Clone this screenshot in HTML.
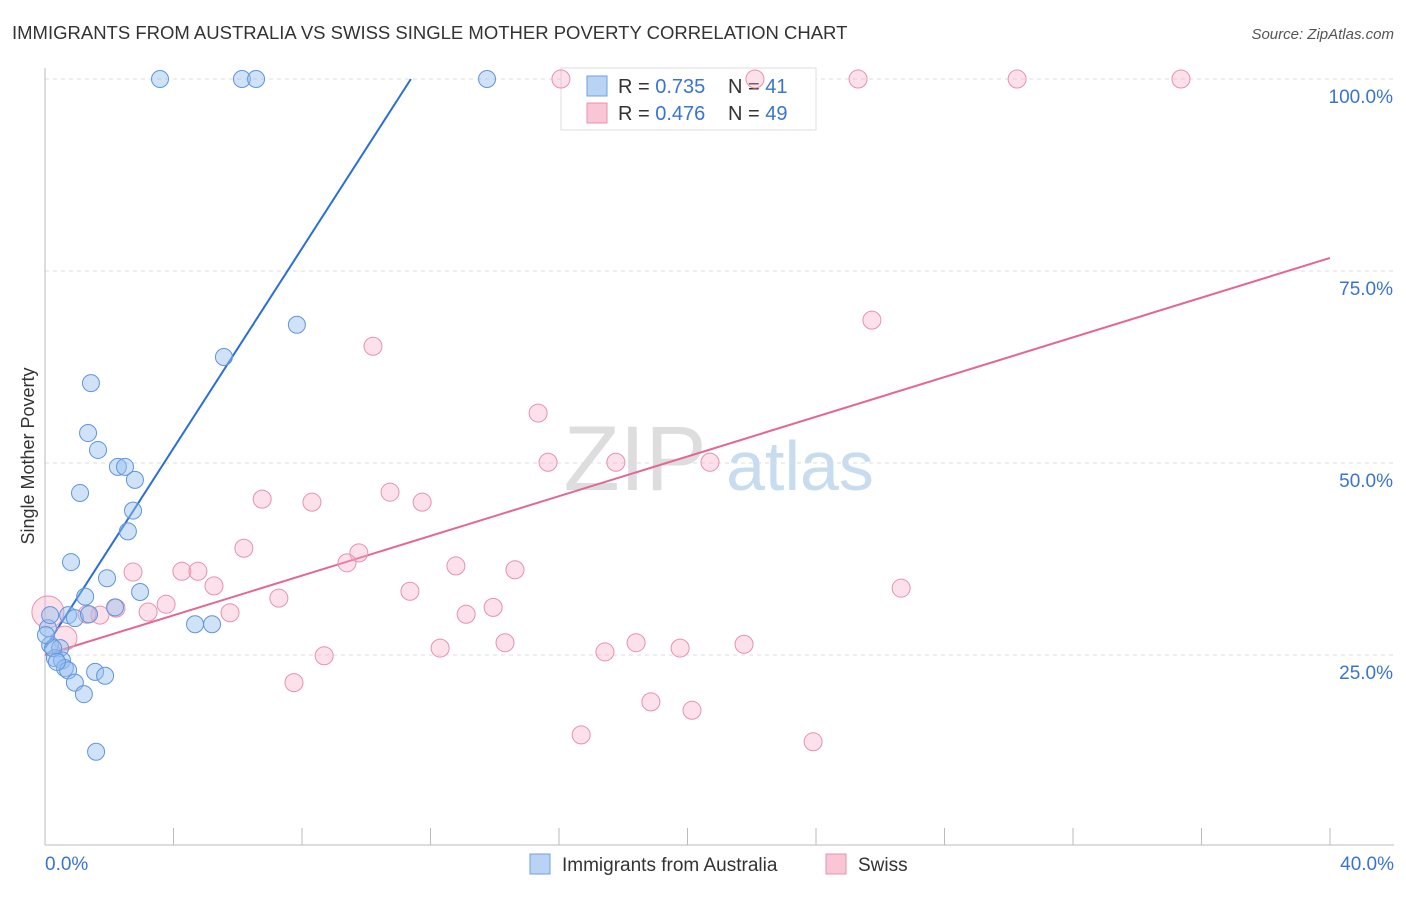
<!DOCTYPE html>
<html><head><meta charset="utf-8"><style>
body{margin:0;background:#fff;font-family:"Liberation Sans",sans-serif;}
svg text{font-family:"Liberation Sans",sans-serif;}
</style></head><body>
<svg id="chart" width="1406" height="892" viewBox="0 0 1406 892" xmlns="http://www.w3.org/2000/svg">
<text x="12" y="39" font-size="18.5" fill="#333">IMMIGRANTS FROM AUSTRALIA VS SWISS SINGLE MOTHER POVERTY CORRELATION CHART</text>
<text x="1394" y="39" font-size="15" fill="#555" text-anchor="end" font-style="italic">Source: ZipAtlas.com</text>
<text x="34" y="456" font-size="18" fill="#333" text-anchor="middle" transform="rotate(-90 34 456)">Single Mother Poverty</text>
<g><text x="635" y="490" font-size="92" fill="#ddd" text-anchor="middle" font-family="Liberation Serif,serif">ZIP</text><text x="800" y="490" font-size="70" fill="#c8dcf0" text-anchor="middle">atlas</text></g>
<g id="grid"></g><g id="axes"></g>
<g>
<rect x="561" y="68" width="255" height="62" fill="#fff" stroke="#ddd"/>
<rect x="587" y="76" width="20" height="20" fill="#b8d3f3" stroke="#6fa0e0"/>
<rect x="587" y="103" width="20" height="20" fill="#f8c6d5" stroke="#e891ad"/>
<text x="618" y="93" font-size="20" fill="#333">R = <tspan fill="#3a74d0">0.735</tspan></text>
<text x="728" y="93" font-size="20" fill="#333">N = <tspan fill="#3a74d0">41</tspan></text>
<text x="618" y="120" font-size="20" fill="#333">R = <tspan fill="#3a74d0">0.476</tspan></text>
<text x="728" y="120" font-size="20" fill="#333">N = <tspan fill="#3a74d0">49</tspan></text>
</g>
<g id="lines"></g><g id="pts"></g>
<g>
<rect x="530" y="854" width="20" height="20" fill="#b8d3f3" stroke="#6fa0e0"/>
<text x="562" y="871" font-size="19" fill="#333">Immigrants from Australia</text>
<rect x="826" y="854" width="20" height="20" fill="#f8c6d5" stroke="#e891ad"/>
<text x="858" y="871" font-size="19" fill="#333">Swiss</text>
</g>
</svg>
<script>
const blueX=[3.58,6.13,6.57,13.76,7.84,5.57,1.43,1.34,1.65,2.27,2.49,2.80,1.09,2.74,2.58,0.81,1.93,2.96,1.25,0.72,0.93,1.37,2.18,4.67,5.20,0.09,0.16,0.47,0.31,0.53,0.62,0.72,1.56,1.87,0.93,1.21,1.59,0.16,0.25,0.37,0.03];
const blueY=[100,100,100,100,68.0,63.8,60.4,53.9,51.7,49.5,49.5,47.8,46.1,43.8,41.1,37.1,35.0,33.2,32.6,30.2,29.8,30.3,31.2,29.0,29.0,28.5,26.3,25.9,24.6,24.3,23.3,23.0,22.8,22.3,21.4,19.9,12.4,30.2,25.9,24.1,27.6];
const pinkX=[16.06,22.10,25.31,30.26,35.36,25.74,10.21,15.35,15.66,17.77,20.70,6.76,8.31,10.74,11.74,6.19,9.77,9.40,2.74,4.26,4.76,12.79,14.63,5.26,26.65,11.36,7.28,3.77,13.95,3.21,5.76,13.11,1.71,2.21,14.32,18.40,21.76,12.30,17.43,19.77,8.69,7.75,18.86,20.14,16.69,23.91,0.09,0.62,1.31];
const pinkY=[100,100,100,100,100,68.6,65.2,56.5,50.1,50.1,50.1,45.3,44.9,46.2,44.9,38.9,38.3,37.0,35.8,35.9,35.9,36.6,36.1,34.0,33.7,33.3,32.4,31.6,31.2,30.6,30.5,30.3,30.2,31.1,26.6,26.6,26.4,25.9,25.4,25.9,24.9,21.4,18.9,17.8,14.6,13.7,30.6,27.2,30.3];
const pinkR=[9,9,9,9,9,9,9,9,9,9,9,9,9,9,9,9,9,9,9,9,9,9,9,9,9,9,9,9,9,9,9,9,9,9,9,9,9,9,9,9,9,9,9,9,9,9,16,12,9];
const blueTrend=[0,25.9,11.39,100];
const pinkTrend=[0,25.0,40,76.7];
const yTicks=[25,50,75,100];
const xTickLabels=["0.0%","40.0%"];
const NS="http://www.w3.org/2000/svg";
const sx=v=>45+v*(1285/40), sy=v=>847-v*7.68;
function mk(tag,attrs,parent){const e=document.createElementNS(NS,tag);for(const k in attrs)e.setAttribute(k,attrs[k]);document.getElementById(parent).appendChild(e);return e;}
yTicks.forEach(t=>{
 const l=mk('line',{x1:45,x2:1394,y1:sy(t),y2:sy(t),stroke:'#ddd','stroke-dasharray':'4,4'},'grid');
 
 
 const tx=mk('text',{x:1393,y:sy(t)+24,'font-size':19,fill:'#3a74d0','text-anchor':'end'},'axes');tx.textContent=t.toFixed(1)+'%';
 
 
});
let a=mk('line',{x1:45,x2:45,y1:68,y2:845,stroke:'#bbb'},'axes');


a=mk('line',{x1:45,x2:1394,y1:845,y2:845,stroke:'#bbb'},'axes');


for(let i=1;i<=10;i++){const t=mk('line',{x1:sx(i*4),x2:sx(i*4),y1:828,y2:845,stroke:'#bbb'},'axes');
 
 }
[[0,45,'start'],[1,1394,'end']].forEach(([i,x,an])=>{const t=mk('text',{x:x,y:870,'font-size':19,fill:'#3a74d0','text-anchor':an},'axes');t.textContent=xTickLabels[i];
 
 });
let tl=mk('line',{x1:sx(blueTrend[0]),y1:sy(blueTrend[1]),x2:sx(blueTrend[2]),y2:sy(blueTrend[3]),stroke:'#2a6fd6','stroke-width':2},'lines');


tl=mk('line',{x1:sx(pinkTrend[0]),y1:sy(pinkTrend[1]),x2:sx(pinkTrend[2]),y2:sy(pinkTrend[3]),stroke:'#e4678f','stroke-width':2},'lines');


pinkX.forEach((x,i)=>{const c=mk('circle',{cx:sx(x),cy:sy(pinkY[i]),r:pinkR[i],fill:'rgba(245,170,195,0.35)',stroke:'#e891ad','stroke-width':1},'pts');
 
 });
blueX.forEach((x,i)=>{const c=mk('circle',{cx:sx(x),cy:sy(blueY[i]),r:8.5,fill:'rgba(150,190,240,0.45)',stroke:'#5f95dc','stroke-width':1},'pts');
 
 });
</script>
</body></html>
